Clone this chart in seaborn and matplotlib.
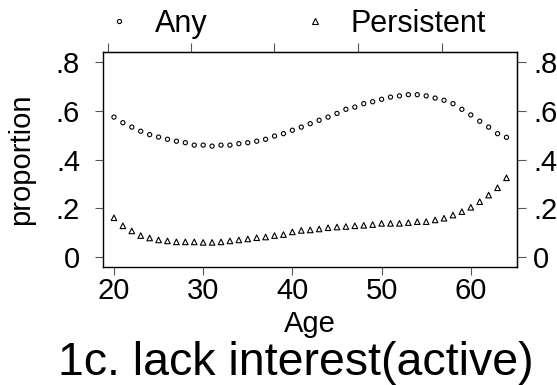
import numpy as np
import pandas as pd
import matplotlib
matplotlib.use("Agg")
import matplotlib.pyplot as plt
from matplotlib.lines import Line2D
import seaborn as sns

ages = list(range(20, 65))
any_vals = [0.574, 0.551, 0.533, 0.516, 0.502, 0.492, 0.483, 0.475, 0.469, 0.459,
            0.459, 0.455, 0.459, 0.459, 0.465, 0.469, 0.475, 0.483, 0.496, 0.506,
            0.520, 0.533, 0.547, 0.561, 0.574, 0.589, 0.606, 0.615, 0.629, 0.637,
            0.647, 0.656, 0.661, 0.666, 0.666, 0.661, 0.652, 0.643, 0.629, 0.606,
            0.583, 0.557, 0.533, 0.506, 0.491]
persistent_vals = [0.161, 0.128, 0.107, 0.088, 0.078, 0.070, 0.066, 0.062, 0.062, 0.062,
                   0.060, 0.060, 0.062, 0.066, 0.070, 0.074, 0.079, 0.082, 0.088, 0.092,
                   0.103, 0.109, 0.111, 0.115, 0.120, 0.123, 0.125, 0.128, 0.130, 0.133,
                   0.138, 0.138, 0.138, 0.141, 0.145, 0.145, 0.152, 0.159, 0.172, 0.186,
                   0.204, 0.227, 0.254, 0.284, 0.325]
series_names = ["Any", "Persistent"]
x_ticks = [20, 30, 40, 50, 60]
y_ticks = [0, 0.2, 0.4, 0.6, 0.8]
y_tick_labels = ["0", ".2", ".4", ".6", ".8"]
top_ticks = [19.33, 28.63, 37.94, 47.35, 56.77]
title = "1c. lack interest(active)"

df = pd.DataFrame({
    "Age": ages * 2,
    "proportion": any_vals + persistent_vals,
    "series": [series_names[0]] * len(ages) + [series_names[1]] * len(ages),
})

sns.set_style("white")
plt.rcParams["font.family"] = ["Liberation Sans", "DejaVu Sans"]
plt.rcParams["text.color"] = "black"
plt.rcParams["axes.labelcolor"] = "black"

fig = plt.figure(figsize=(5.57, 3.85), dpi=100)
ax = fig.add_axes([0.1849, 0.3065, 0.7433, 0.5584])

sns.scatterplot(data=df[df.series == "Any"], x="Age", y="proportion", ax=ax,
                marker="o", s=9, facecolor="none", edgecolor="black", linewidth=0.8,
                legend=False)
sns.scatterplot(data=df[df.series == "Persistent"], x="Age", y="proportion", ax=ax,
                marker="^", s=16, facecolor="none", edgecolor="black", linewidth=0.8,
                legend=False)

ax.set_xlim(18.77, 65.18)
ax.set_ylim(-0.041, 0.841)
ax.set_xticks(x_ticks)
ax.set_xticklabels([str(t) for t in x_ticks])
ax.set_yticks(y_ticks)
ax.set_yticklabels(y_tick_labels)
ax.tick_params(axis="x", direction="out", length=5.5, width=0.8,
               color="#555555", labelcolor="black", labelsize=21, pad=2, bottom=True)
ax.tick_params(axis="y", direction="out", length=6, width=0.8,
               color="#555555", labelcolor="black", labelsize=21, pad=10.5,
               left=True, right=False)
for sp in ax.spines.values():
    sp.set_color("black")
    sp.set_linewidth(1.0)

sec = ax.secondary_xaxis("top")
sec.set_xticks(top_ticks)
sec.set_xticklabels([])
sec.tick_params(direction="out", length=6.5, width=0.8, color="#555555")

secy = ax.secondary_yaxis("right")
secy.set_yticks(y_ticks)
secy.set_yticklabels(y_tick_labels)
secy.tick_params(direction="out", length=6.5, width=0.8, color="#555555",
                 labelcolor="black", labelsize=21, pad=5)

ax.set_xlabel("Age", fontsize=21, labelpad=3)
ax.set_ylabel("proportion", fontsize=21)
ax.yaxis.set_label_coords(-0.164, 0.5)

handles = [Line2D([], [], marker="o", linestyle="none", markersize=3,
                  markerfacecolor="none", markeredgecolor="black", markeredgewidth=0.8),
           Line2D([], [], marker="^", linestyle="none", markersize=4,
                  markerfacecolor="none", markeredgecolor="black", markeredgewidth=0.8)]
fig.legend(handles, series_names, loc="center left", bbox_to_anchor=(0.1862, 0.9377),
           ncol=2, frameon=False, fontsize=22, handletextpad=0.68,
           columnspacing=3.0, handlelength=1.0, borderpad=0, borderaxespad=0)

fig.text(0.531, 0.026, title, fontsize=33.5, ha="center", va="baseline")

fig.savefig("out.png", dpi=100)
